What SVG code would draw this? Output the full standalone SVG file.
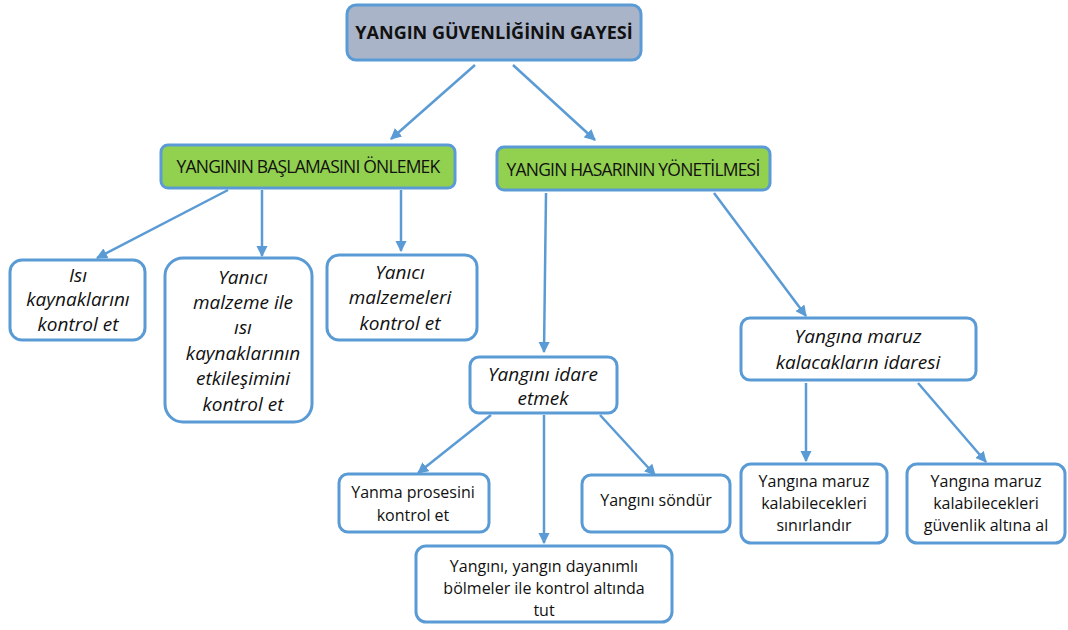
<svg xmlns="http://www.w3.org/2000/svg" width="1068" height="630" viewBox="0 0 1068 630">
<defs>
<marker id="ah" viewBox="0 0 10 10" refX="9" refY="5" markerWidth="4.5" markerHeight="4.5" orient="auto" markerUnits="strokeWidth">
<path d="M0,0 L10,5 L0,10 Z" fill="#5b9bd5"/>
</marker>
</defs>
<style>
.box{fill:#ffffff;stroke:#5b9bd5;stroke-width:3}
.green{fill:#92d050;stroke:#5b9bd5;stroke-width:3}
.top{fill:#a9b4c9;stroke:#5b9bd5;stroke-width:3}
.c{fill:none;stroke:#5b9bd5;stroke-width:2.5;marker-end:url(#ah)}
text{font-family:"Open Sans","Liberation Sans",sans-serif;fill:#111;text-anchor:middle}
.it{font-style:italic;font-size:19px}
.n{font-size:16px}
.g{font-size:17.5px;letter-spacing:-0.8px}
.t{font-size:18px;font-weight:bold}
</style>
<rect width="1068" height="630" fill="#ffffff"/>
<g id="connectors">
<line class="c" x1="475" y1="65" x2="391" y2="139"/>
<line class="c" x1="513" y1="65" x2="595" y2="140"/>
<line class="c" x1="228" y1="190" x2="97" y2="258"/>
<line class="c" x1="262" y1="190" x2="262" y2="256"/>
<line class="c" x1="401" y1="190" x2="401" y2="251"/>
<line class="c" x1="546" y1="193" x2="544" y2="352"/>
<line class="c" x1="714" y1="193" x2="806" y2="316"/>
<line class="c" x1="491" y1="415" x2="418" y2="473"/>
<line class="c" x1="544" y1="415" x2="544" y2="543"/>
<line class="c" x1="600" y1="415" x2="655" y2="475"/>
<line class="c" x1="806" y1="383" x2="806" y2="461"/>
<line class="c" x1="918" y1="383" x2="986" y2="462"/>
</g>
<g id="n-top">
<rect class="top" x="347" y="5" width="294" height="55" rx="9"/>
<text class="t" x="494" y="39">YANGIN  GÜVENLİĞİNİN GAYESİ</text>
</g>
<g id="n-baslama">
<rect class="green" x="161" y="145" width="294" height="43" rx="7"/>
<text class="g" x="308" y="173">YANGININ BAŞLAMASINI ÖNLEMEK</text>
</g>
<g id="n-hasar">
<rect class="green" x="497" y="147" width="273" height="43" rx="7"/>
<text class="g" x="633" y="176">YANGIN HASARININ YÖNETİLMESİ</text>
</g>
<g id="n-isi">
<rect class="box" x="10" y="260" width="135" height="80" rx="12"/>
<text class="it" x="78" y="282">Isı</text>
<text class="it" x="78" y="306">kaynaklarını</text>
<text class="it" x="78" y="331">kontrol et</text>
</g>
<g id="n-etkilesim">
<rect class="box" x="165" y="258" width="147" height="164" rx="18"/>
<text class="it" x="243" y="284">Yanıcı</text>
<text class="it" x="243" y="309">malzeme ile</text>
<text class="it" x="243" y="334">ısı</text>
<text class="it" x="243" y="360">kaynaklarının</text>
<text class="it" x="243" y="385">etkileşimini</text>
<text class="it" x="243" y="411">kontrol et</text>
</g>
<g id="n-malzeme">
<rect class="box" x="327" y="255" width="150" height="85" rx="12"/>
<text class="it" x="400" y="279">Yanıcı</text>
<text class="it" x="400" y="304">malzemeleri</text>
<text class="it" x="400" y="330">kontrol et</text>
</g>
<g id="n-idare">
<rect class="box" x="470" y="357" width="147" height="56" rx="9"/>
<text class="it" x="543" y="381">Yangını idare</text>
<text class="it" x="543" y="405">etmek</text>
</g>
<g id="n-maruz">
<rect class="box" x="741" y="318" width="235" height="62" rx="9"/>
<text class="it" x="858" y="343">Yangına maruz</text>
<text class="it" x="858" y="369">kalacakların idaresi</text>
</g>
<g id="n-yanma">
<rect class="box" x="339" y="474" width="150" height="58" rx="9"/>
<text class="n" x="413" y="498">Yanma prosesini</text>
<text class="n" x="413" y="521">kontrol et</text>
</g>
<g id="n-sondur">
<rect class="box" x="582" y="475" width="148" height="57" rx="9"/>
<text class="n" x="656" y="506">Yangını söndür</text>
</g>
<g id="n-bolme">
<rect class="box" x="416" y="546" width="256" height="76" rx="10"/>
<text class="n" x="544" y="572">Yangını, yangın dayanımlı</text>
<text class="n" x="544" y="594">bölmeler ile  kontrol altında</text>
<text class="n" x="544" y="616">tut</text>
</g>
<g id="n-sinir">
<rect class="box" x="741" y="464" width="146" height="79" rx="10"/>
<text class="n" x="814" y="487">Yangına maruz</text>
<text class="n" x="814" y="509">kalabilecekleri</text>
<text class="n" x="814" y="531">sınırlandır</text>
</g>
<g id="n-guvenlik">
<rect class="box" x="907" y="464" width="158" height="79" rx="10"/>
<text class="n" x="986" y="487">Yangına maruz</text>
<text class="n" x="986" y="509">kalabilecekleri</text>
<text class="n" x="986" y="531">güvenlik altına al</text>
</g>
</svg>
